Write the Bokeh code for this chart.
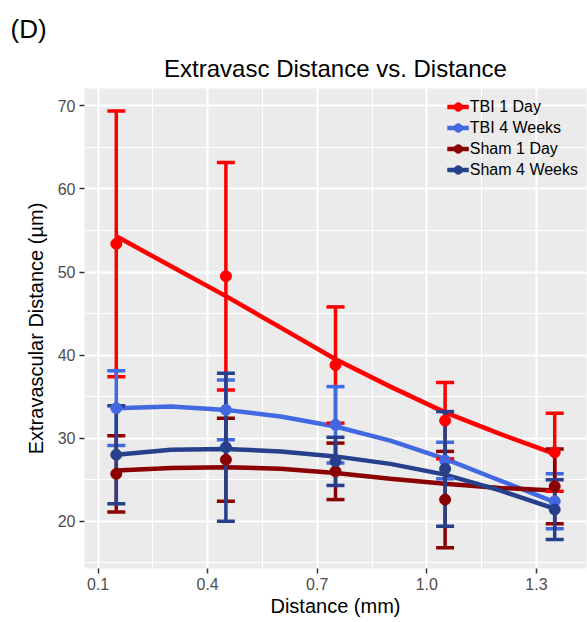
from bokeh.plotting import figure
from bokeh.models import FixedTicker, Legend, LegendItem, Title, NumeralTickFormatter
from bokeh.embed import file_html
from bokeh.resources import INLINE

# Distance from vessel (mm) at which extravascular distance was measured
dist = [0.15, 0.45, 0.75, 1.05, 1.35]

groups = ["TBI 1 Day", "TBI 4 Weeks", "Sham 1 Day", "Sham 4 Weeks"]
colors = ["#FF0000", "#4169E1", "#8B0000", "#27408B"]

# Group means and standard errors (µm)
tbi1_mean = [53.4, 49.5, 38.8, 32.1, 28.3]
tbi1_se = [16.0, 13.7, 7.0, 4.6, 4.7]
tbi4_mean = [33.6, 33.4, 31.6, 27.3, 22.4]
tbi4_se = [4.5, 3.6, 4.6, 2.2, 3.3]
sham1_mean = [25.7, 27.4, 26.0, 22.6, 24.2]
sham1_se = [4.6, 5.0, 3.4, 5.8, 4.5]
sham4_mean = [28.0, 28.9, 27.2, 26.3, 21.4]
sham4_se = [5.9, 8.9, 2.9, 6.9, 3.6]

# Smoothed trend per group
fit_x = [0.15, 0.30, 0.45, 0.60, 0.75, 0.90, 1.05, 1.20, 1.35]
tbi1_fit = [54.3, 50.7, 47.1, 43.3, 39.5, 36.2, 33.1, 30.5, 28.1]
tbi4_fit = [33.6, 33.8, 33.4, 32.6, 31.4, 29.7, 27.5, 24.9, 22.3]
sham1_fit = [26.1, 26.4, 26.5, 26.3, 25.8, 25.1, 24.5, 24.0, 23.7]
sham4_fit = [28.0, 28.6, 28.7, 28.4, 27.8, 26.9, 25.6, 23.7, 21.5]

x_ticks = [0.1, 0.4, 0.7, 1.0, 1.3]
x_minor = [0.25, 0.55, 0.85, 1.15]
y_ticks = [20, 30, 40, 50, 60, 70]
y_minor = [15, 25, 35, 45, 55, 65]

means = [tbi1_mean, tbi4_mean, sham1_mean, sham4_mean]
ses = [tbi1_se, tbi4_se, sham1_se, sham4_se]
fits = [tbi1_fit, tbi4_fit, sham1_fit, sham4_fit]

FONT = "Liberation Sans"

p = figure(width=587, height=622, x_range=(0.063, 1.437), y_range=(14.3, 72.1),
           output_backend="svg", toolbar_location=None,
           min_border_left=84, min_border_right=1, min_border_top=88, min_border_bottom=54)

p.background_fill_color = "#EBEBEB"
p.border_fill_color = "white"
p.outline_line_color = None

# panel letter (outermost title row, top-left corner)
p.title.text = "(D)"
p.title.align = "left"
p.title.offset = -74
p.title.standoff = 5
p.title.text_font = FONT
p.title.text_font_size = "26px"
p.title.text_font_style = "normal"
p.title.text_color = "black"

# chart title, centred over the plotting area
p.add_layout(Title(text="Extravasc Distance vs. Distance", align="center", standoff=13,
                   text_font=FONT, text_font_size="24px", text_font_style="normal",
                   text_color="black"), "above")

xt = FixedTicker(ticks=x_ticks, minor_ticks=x_minor)
yt = FixedTicker(ticks=y_ticks, minor_ticks=y_minor)
p.xaxis.ticker = xt
p.yaxis.ticker = yt
p.xaxis.formatter = NumeralTickFormatter(format="0.0")
p.xgrid.ticker = xt
p.ygrid.ticker = yt

for g in (p.xgrid, p.ygrid):
    g.grid_line_color = "white"
    g.grid_line_width = 2
    g.minor_grid_line_color = "white"
    g.minor_grid_line_width = 1

for ax in (p.xaxis, p.yaxis):
    ax.axis_line_color = None
    ax.minor_tick_line_color = None
    ax.major_tick_line_color = "#333333"
    ax.major_tick_line_width = 1.5
    ax.major_tick_in = 0
    ax.major_tick_out = 5
    ax.major_label_text_font = FONT
    ax.major_label_text_font_size = "16px"
    ax.major_label_text_color = "#4D4D4D"
    ax.major_label_standoff = 4
    ax.axis_label_text_font = FONT
    ax.axis_label_text_font_size = "20px"
    ax.axis_label_text_font_style = "normal"
    ax.axis_label_text_color = "black"

p.xaxis.axis_label = "Distance (mm)"
p.xaxis.axis_label_standoff = 2
p.yaxis.axis_label = "Extravascular Distance (µm)"
p.yaxis.axis_label_standoff = 8

# smoothed trend lines
line_rs = []
for fit, c in zip(fits, colors):
    line_rs.append(p.line(fit_x, fit, line_color=c, line_width=4.5))

# error bars: mean ± SE with caps
for m, s, c in zip(means, ses, colors):
    lo = [a - b for a, b in zip(m, s)]
    hi = [a + b for a, b in zip(m, s)]
    p.segment(x0=dist, y0=lo, x1=dist, y1=hi, line_color=c, line_width=3.5)
    p.scatter(dist + dist, lo + hi, marker="dash", size=18, line_color=c, line_width=3.5)

# group means
pt_rs = []
for m, c in zip(means, colors):
    pt_rs.append(p.scatter(dist, m, marker="circle", size=11, fill_color=c, line_color=c))

items = [LegendItem(label=g, renderers=[lr, pr]) for g, lr, pr in zip(groups, line_rs, pt_rs)]
legend = Legend(items=items, location="top_right", margin=0, padding=8, spacing=0,
                glyph_width=22, glyph_height=21, label_height=21, label_standoff=1,
                label_text_font=FONT, label_text_font_size="16px", label_text_color="black",
                background_fill_alpha=0, border_line_alpha=0)
p.add_layout(legend)

open("out.html", "w").write(file_html(p, INLINE))
